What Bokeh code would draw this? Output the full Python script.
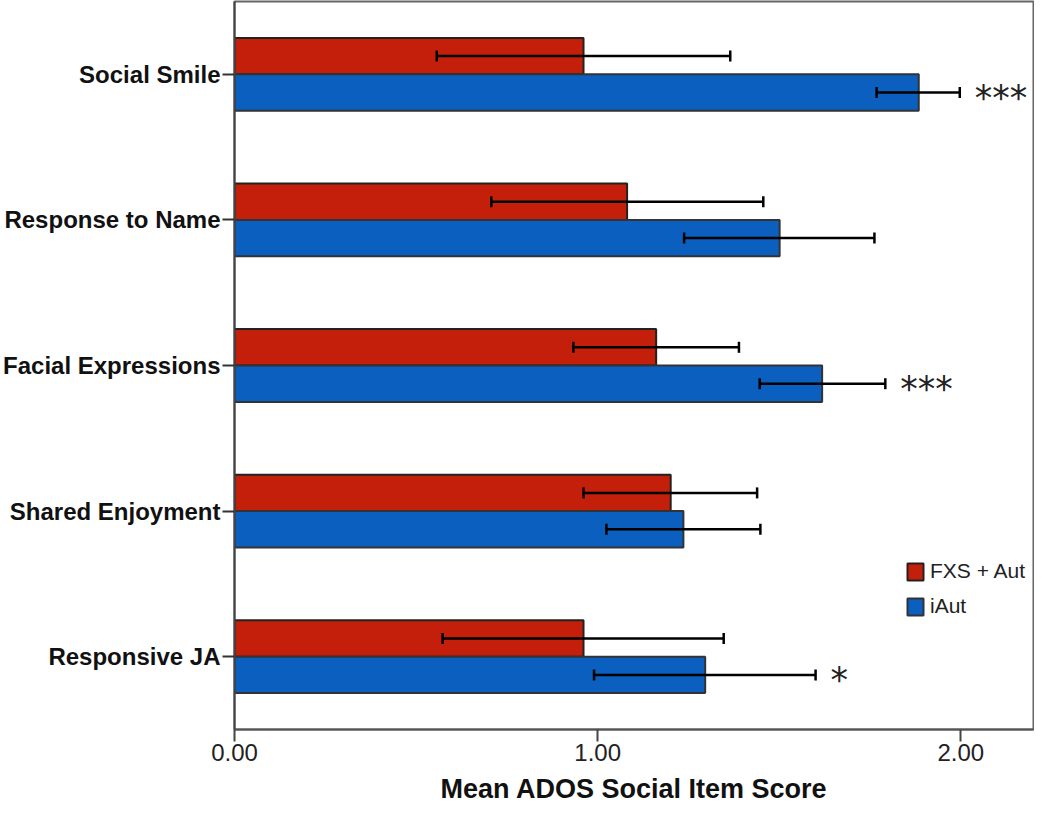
from bokeh.plotting import figure
from bokeh.models import (FactorRange, Range1d, FixedTicker, NumeralTickFormatter,
                          ColumnDataSource, Whisker, TeeHead, Legend, LegendItem)
from bokeh.transform import dodge
from bokeh.core.properties import value
from bokeh.embed import file_html
from bokeh.resources import INLINE

categories = ["Social Smile", "Response to Name", "Facial Expressions",
              "Shared Enjoyment", "Responsive JA"]
series = ["FXS + Aut", "iAut"]
fxs_mean = [0.961, 1.081, 1.161, 1.201, 0.961]
fxs_lo = [0.557, 0.707, 0.933, 0.961, 0.573]
fxs_hi = [1.365, 1.456, 1.389, 1.439, 1.347]
iaut_mean = [1.884, 1.501, 1.618, 1.236, 1.296]
iaut_lo = [1.768, 1.238, 1.446, 1.024, 0.990]
iaut_hi = [1.997, 1.762, 1.792, 1.448, 1.600]
significance = ["***", "", "***", "", "*"]
x_ticks = [0, 1, 2]
x_label = "Mean ADOS Social Item Score"

RED = "#C41F0A"
BLUE = "#0A5FBF"
FONT = "Liberation Sans"

src = ColumnDataSource(dict(cat=categories, fxs=fxs_mean, fxs_lo=fxs_lo, fxs_hi=fxs_hi,
                            iaut=iaut_mean, iaut_lo=iaut_lo, iaut_hi=iaut_hi,
                            sig=significance))

p = figure(width=1034, height=806,
           y_range=FactorRange(factors=categories[::-1], range_padding=0),
           x_range=Range1d(0, 2.20),
           output_backend="svg", toolbar_location=None,
           min_border_left=229, min_border_right=1, min_border_top=1, min_border_bottom=0)

p.background_fill_color = "white"
p.border_fill_color = "white"
p.outline_line_color = "#666666"
p.outline_line_width = 2
p.xgrid.visible = False
p.ygrid.visible = False

r_fxs = p.hbar(y=dodge("cat", 0.125, range=p.y_range), left=0, right="fxs", height=0.25,
               source=src, fill_color=RED, line_color="#222222", line_width=2)
r_iaut = p.hbar(y=dodge("cat", -0.125, range=p.y_range), left=0, right="iaut", height=0.25,
                source=src, fill_color=BLUE, line_color="#333333", line_width=2)

for base_off, lo, hi in [(0.125, "fxs_lo", "fxs_hi"), (-0.125, "iaut_lo", "iaut_hi")]:
    w = Whisker(source=src, base=dodge("cat", base_off, range=p.y_range), lower=lo, upper=hi,
                dimension="width", line_color="black", line_width=2.5, level="overlay",
                upper_head=TeeHead(size=11, line_width=2.5, line_color="black"),
                lower_head=TeeHead(size=11, line_width=2.5, line_color="black"))
    p.add_layout(w)

p.text(x="iaut_hi", y=dodge("cat", -0.125, range=p.y_range), text="sig", source=src,
       x_offset=15, y_offset=5, text_font=value("DejaVu Sans"), text_font_size="35px",
       text_baseline="middle", text_align="left", text_color="#222222")

legend = Legend(items=[LegendItem(label=series[0], renderers=[r_fxs]),
                       LegendItem(label=series[1], renderers=[r_iaut])],
                location=(671, 111), orientation="vertical",
                border_line_alpha=0, background_fill_alpha=0, padding=0, margin=0,
                spacing=11, glyph_width=20, glyph_height=21, label_height=21,
                label_standoff=5, label_text_font=FONT, label_text_font_size="21px",
                label_text_color="#222222")
p.add_layout(legend)

xa = p.xaxis[0]
xa.ticker = FixedTicker(ticks=x_ticks)
xa.formatter = NumeralTickFormatter(format="0.00")
xa.axis_label = x_label
xa.axis_label_text_font = FONT
xa.axis_label_text_font_style = "bold"
xa.axis_label_text_font_size = "27px"
xa.axis_label_text_color = "#111111"
xa.axis_label_standoff = 10
xa.major_label_text_font = FONT
xa.major_label_text_font_size = "24px"
xa.major_label_text_color = "#222222"
xa.major_label_standoff = 2
xa.major_tick_out = 12
xa.major_tick_in = 0
xa.major_tick_line_width = 2
xa.major_tick_line_color = "#444444"
xa.minor_tick_line_color = None
xa.axis_line_width = 2
xa.axis_line_color = "#555555"

ya = p.yaxis[0]
ya.major_label_text_font = FONT
ya.major_label_text_font_style = "bold"
ya.major_label_text_font_size = "24px"
ya.major_label_text_color = "#111111"
ya.major_label_standoff = 2
ya.major_tick_out = 12
ya.major_tick_in = 0
ya.major_tick_line_width = 2
ya.major_tick_line_color = "#333333"
ya.axis_line_width = 2
ya.axis_line_color = "#444444"

open("out.html", "w").write(file_html(p, INLINE))
